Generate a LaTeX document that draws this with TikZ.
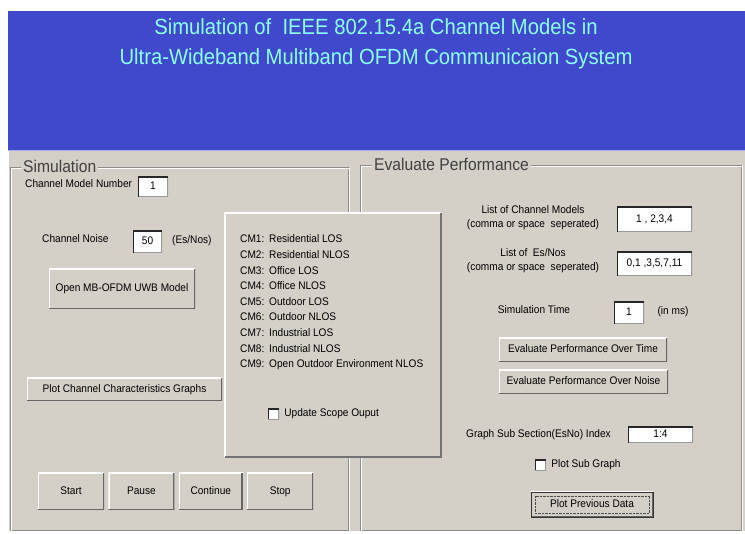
\documentclass[tikz,border=0pt]{standalone}
\usepackage{fontspec}
\setmainfont{Liberation Sans}[FakeStretch=0.92]
\usetikzlibrary{positioning}
\definecolor{guigrey}{RGB}{212,208,200}
\definecolor{titleblue}{RGB}{64,72,204}
\definecolor{titlecyan}{RGB}{140,255,255}
\newcommand{\guifont}{\fontsize{11}{13}\selectfont}
\tikzset{
  lbl/.style={inner sep=0pt, font=\guifont, text height=8pt, text depth=2pt},
  twolbl/.style={inner sep=0pt, font=\guifont, align=center},
  btn/.style={fill=guigrey, inner sep=0pt, font=\guifont, text height=8pt, text depth=2pt,
    path picture={
      \draw[white, line width=2.4pt] (path picture bounding box.south west) |- (path picture bounding box.north east);
      \draw[black!60, line width=2.8pt] (path picture bounding box.south west) -| (path picture bounding box.north east);}},
  field/.style={fill=white, inner sep=0pt, font=\guifont, text height=8pt, text depth=2pt,
    path picture={
      \draw[black!40, line width=1.6pt] (path picture bounding box.south west) -| (path picture bounding box.north east);
      \draw[black!85, line width=2.4pt] (path picture bounding box.south west) |- (path picture bounding box.north east);}},
  chk/.style={field, minimum size=11pt, text height=, text depth=},
  grouptitle/.style={fill=guigrey, inner sep=2pt, text=black!75, font=\fontsize{17}{19}\selectfont}
}

\begin{document}
\begin{tikzpicture}[x=1pt, y=-1pt]
\useasboundingbox (0,0) rectangle (745,534);

% window background and header
\fill[white] (0,0) rectangle (745,534);
\fill[guigrey] (9,150) rectangle (745,531);
\fill[titleblue] (8,11) rectangle (745,150);
\draw[titleblue!45] (8,150.5) -- (745,150.5);
\node[text=titlecyan, font=\fontsize{22}{24}\selectfont] (title1) at (376,27) {Simulation of\ \ IEEE 802.15.4a Channel Models in};
\node[text=titlecyan, font=\fontsize{22}{24}\selectfont] (title2) at (376,59) {Ultra-Wideband Multiband OFDM Communicaion System};

% group frames
\draw[black!45] (10.5,167) rectangle (348,530);
\draw[white] (11.5,168) rectangle (349,531);
\draw[black!45] (360,165) rectangle (741,530);
\draw[white] (361,166) rectangle (742,531);
\node[grouptitle, anchor=west] (simtitle) at (21,166) {Simulation};
\node[grouptitle, anchor=west] (evaltitle) at (372,164) {Evaluate Performance};

% Simulation panel
\node[lbl, anchor=west] (cmnumlbl) at (25,185) {Channel Model Number};
\node[field, minimum width=30pt, minimum height=20pt] (cmnum) at (153,187) {1};
\node[lbl, anchor=west] (noiselbl) at (42,240) {Channel Noise};
\node[field, minimum width=29pt, minimum height=22pt] (noise) at (147.5,242) {50};
\node[lbl, anchor=west] (noiseunit) at (172,241) {(Es/Nos)};
\node[btn, minimum width=146pt, minimum height=40pt] (openmodel) at (122,289) {Open MB-OFDM UWB Model};
\node[btn, minimum width=195pt, minimum height=23pt] (plotchar) at (124.5,389.5) {Plot Channel Characteristics Graphs};

\node[btn, minimum width=66pt, minimum height=37pt] (start) at (71,491.5) {Start};
\node[btn, minimum width=66pt, minimum height=37pt, right=4pt of start] (pause) {Pause};
\node[btn, minimum width=64pt, minimum height=37pt, right=4pt of pause] (continue) {Continue};
\node[btn, minimum width=66pt, minimum height=37pt, right=4pt of continue] (stop) {Stop};

% channel model list
\fill[guigrey] (225,213) rectangle (441,457);
\draw[white, line width=1.2pt] (225,457) |- (441,213);
\draw[black!55, line width=1.2pt] (225,457) -| (441,213);
\foreach \i/\txt in {1/Residential LOS, 2/Residential NLOS, 3/Office LOS, 4/Office NLOS,
  5/Outdoor LOS, 6/Outdoor NLOS, 7/Industrial LOS, 8/Industrial NLOS,
  9/Open Outdoor Environment NLOS}
  \node[lbl, anchor=west] (cm\i) at (240,{240+(\i-1)*15.6}) {\makebox[29pt][l]{CM\i:}\txt};
\node[chk] (updbox) at (273.5,414) {};
\node[lbl, right=5pt of updbox] (updlbl) {Update Scope Ouput};

% Evaluate Performance panel
\node[twolbl] (cmlistlbl) at (533,218) {List of Channel Models\\[1pt](comma or space\ \ seperated)};
\node[field, minimum width=75pt, minimum height=25pt] (cmlist) at (654.5,219.5) {1 , 2,3,4};
\node[twolbl] (esnolbl) at (533,261) {List of\ \ Es/Nos\\[1pt](comma or space\ \ seperated)};
\node[field, minimum width=75pt, minimum height=24pt] (esnolist) at (654.5,264) {0,1 ,3,5,7,11};
\node[lbl] (simtimelbl) at (534,311) {Simulation Time};
\node[field, minimum width=30pt, minimum height=22pt] (simtime) at (629,313) {1};
\node[lbl] (simtimeunit) at (673,312) {(in ms)};
\node[btn, minimum width=168pt, minimum height=24pt] (overtime) at (583,350) {Evaluate Performance Over Time};
\node[btn, minimum width=169pt, minimum height=24pt] (overnoise) at (583.5,382) {Evaluate Performance Over Noise};
\node[lbl, anchor=west] (subidxlbl) at (466,435) {Graph Sub Section(EsNo) Index};
\node[field, minimum width=65pt, minimum height=16pt] (subidx) at (660.5,435) {1:4};
\node[chk] (subbox) at (540.5,465) {};
\node[lbl, right=5pt of subbox] (sublbl) {Plot Sub Graph};
\node[btn, minimum width=122pt, minimum height=25pt, draw=black!80] (plotprev) at (592,504.5) {Plot Previous Data};
\draw[black!70, densely dotted] ([shift={(4pt,4pt)}]plotprev.south west) rectangle ([shift={(-4pt,-4pt)}]plotprev.north east);
\end{tikzpicture}
\end{document}
